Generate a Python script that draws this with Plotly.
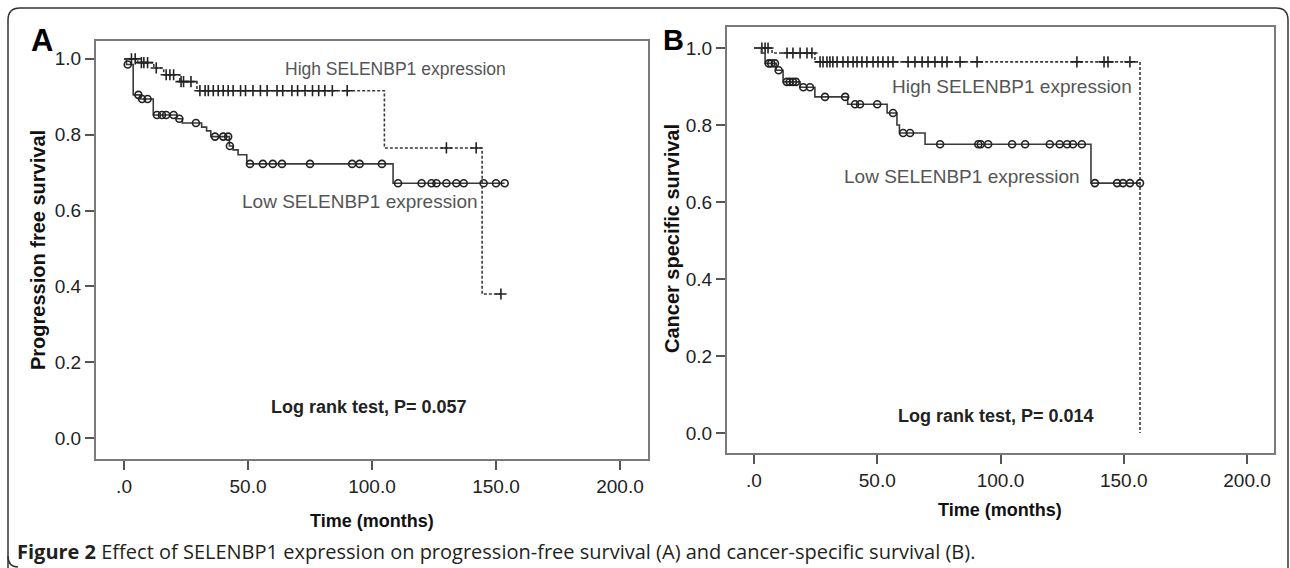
import plotly.graph_objects as go

W, H = 1290, 568

# ---------------- data ----------------
# Panel A: progression-free survival
a_high_step_t = [0, 5.5, 12, 16, 22.5, 29.4, 105, 144.4]
a_high_step_s = [1.0, 0.99, 0.976, 0.958, 0.94, 0.916, 0.765, 0.38]
a_high_censor = [3, 4.5, 7, 8, 9.5, 13, 17, 18.5, 20, 23, 24, 27, 30.6, 32.7, 34, 36, 38,
                 40, 42, 44, 47, 49, 52, 55, 57.7, 61.7, 64, 67.7, 70, 73, 76, 78.5, 81,
                 84, 90, 130, 142, 152]

a_low_step_t = [0, 1, 3.7, 6.5, 11.8, 21.3, 23.5, 31.3, 33.3, 35, 42.5, 44, 46, 49.5, 108.5]
a_low_step_s = [1.0, 0.985, 0.905, 0.894, 0.852, 0.842, 0.831, 0.82, 0.81, 0.795, 0.77,
                0.76, 0.747, 0.723, 0.672]
a_low_censor = [1.5, 5.8, 7.3, 9.5, 13.3, 15.3, 17, 20, 22.3, 29, 36.7, 40, 42, 42.7,
                50.8, 56, 60, 63.7, 75, 92, 95, 104, 110.5, 120, 124, 126, 130, 134,
                137, 145, 150, 153.5]

# Panel B: cancer-specific survival
b_high_step_t = [0, 7.3, 24.7, 156.6]
b_high_step_s = [1.0, 0.987, 0.964, 0.0]
b_high_censor = [3.2, 4.5, 5.7, 13.4, 15.8, 18.7, 21.5, 23.5, 26.8, 28, 29.6, 30.8, 32,
                 33.7, 36.1, 38.1, 40.2, 41.8, 43.8, 45.8, 48.3, 50.3, 52.3, 54.4, 56.4,
                 62.5, 65.3, 68.2, 70.6, 73.4, 76.3, 78.3, 83.6, 90.5, 131, 142, 143.6,
                 152.5]

b_low_step_t = [0, 3, 4.5, 9, 11.8, 18.7, 24.7, 38, 54, 58, 59, 69.4, 136.7]
b_low_step_s = [1.0, 0.987, 0.96, 0.942, 0.912, 0.898, 0.873, 0.854, 0.831, 0.8, 0.779,
                0.75, 0.649]
b_low_censor = [6, 7, 8.5, 10, 13.3, 14.5, 15.8, 17, 20, 22.7, 28.8, 37, 41, 43, 50,
                56.4, 60.5, 63.3, 75.5, 91, 92, 95, 104.7, 110, 120, 124, 127, 129.4,
                133, 138.3, 147.3, 149.7, 152.5, 156.6]

x_tick_vals = [0, 50, 100, 150, 200]
x_tick_text = [".0", "50.0", "100.0", "150.0", "200.0"]
y_tick_vals = [0.0, 0.2, 0.4, 0.6, 0.8, 1.0]
y_tick_text = ["0.0", "0.2", "0.4", "0.6", "0.8", "1.0"]

high_label = "High SELENBP1 expression"
low_label = "Low SELENBP1 expression"
x_title = "Time (months)"
a_y_title = "Progression free survival"
b_y_title = "Cancer specific survival"
a_pvalue = "Log rank test, P= 0.057"
b_pvalue = "Log rank test, P= 0.014"
caption_bold = "Figure 2"
caption_rest = (" Effect of SELENBP1 expression on progression-free survival (A) "
                "and cancer-specific survival (B).")

# ---------------- helpers ----------------
def surv_at(t, st, ss):
    v = ss[0]
    for ti, si in zip(st, ss):
        if ti <= t:
            v = si
    return v


def km_line(st, ss, censor):
    end = max(st[-1], max(censor))
    xs = list(st) + ([end] if end > st[-1] else [])
    ys = list(ss) + ([ss[-1]] if end > st[-1] else [])
    return xs, ys


LINE_COL = "#3a3a3a"
MARK_COL = "#222222"
FONT = "Liberation Sans, Arial, sans-serif"

fig = go.Figure()


def add_group(st, ss, censor, xa, ya, high):
    xs, ys = km_line(st, ss, censor)
    fig.add_trace(go.Scatter(
        x=xs, y=ys, mode="lines", line_shape="hv", xaxis=xa, yaxis=ya,
        line=dict(color=LINE_COL, width=1.6, dash="3px,2px" if high else "solid"),
        showlegend=False, hoverinfo="skip"))
    cy = [surv_at(t, st, ss) for t in censor]
    fig.add_trace(go.Scatter(
        x=censor, y=cy, mode="markers", xaxis=xa, yaxis=ya,
        marker=dict(symbol="cross-thin" if high else "circle-open",
                    size=8 if high else 7, color=MARK_COL,
                    line=dict(color=MARK_COL, width=1.6)),
        showlegend=False, hoverinfo="skip"))


add_group(a_high_step_t, a_high_step_s, a_high_censor, "x", "y", True)
add_group(a_low_step_t, a_low_step_s, a_low_censor, "x", "y", False)
add_group(b_high_step_t, b_high_step_s, b_high_censor, "x2", "y2", True)
add_group(b_low_step_t, b_low_step_s, b_low_censor, "x2", "y2", False)


def px(x):
    return x / W


def py(y):
    return 1 - y / H


axis_common = dict(showline=True, mirror=True, linecolor="#7a7a7a", linewidth=2,
                   ticks="outside", ticklen=9, tickwidth=1.5, tickcolor="#555555",
                   showgrid=False, zeroline=False,
                   tickfont=dict(family=FONT, size=19, color="#222222"))

fig.update_layout(
    width=W, height=H, margin=dict(l=0, r=0, t=0, b=0),
    paper_bgcolor="white", plot_bgcolor="white",
    xaxis=dict(domain=[px(96), px(648)], range=[-11.3, 211.3], anchor="y",
               tickvals=x_tick_vals, ticktext=x_tick_text, **axis_common),
    yaxis=dict(domain=[py(459), py(41)], range=[-0.055, 1.047], anchor="x",
               tickvals=y_tick_vals, ticktext=y_tick_text, **axis_common),
    xaxis2=dict(domain=[px(727), px(1274)], range=[-10.95, 210.95], anchor="y2",
                tickvals=x_tick_vals, ticktext=x_tick_text, **axis_common),
    yaxis2=dict(domain=[py(453), py(27)], range=[-0.052, 1.0545], anchor="x2",
                tickvals=y_tick_vals, ticktext=y_tick_text, **axis_common),
)

ann = []
GRAY = "#555555"


def add_ann(x, y, text, size, color, xref="paper", yref="paper", bold=False,
            angle=0, family=FONT, xanchor="center"):
    ann.append(dict(x=x, y=y, xref=xref, yref=yref, showarrow=False,
                    text=("<b>" + text + "</b>") if bold else text,
                    textangle=angle, xanchor=xanchor, yanchor="middle",
                    font=dict(family=family, size=size, color=color)))


# in-plot labels
add_ann(109.3, 0.974, high_label, 17.5, GRAY, "x", "y")
add_ann(95.2, 0.623, low_label, 19, GRAY, "x", "y")
add_ann(98.6, 0.082, a_pvalue, 18, "#222222", "x", "y", bold=True)
add_ann(104.7, 0.899, high_label, 19, GRAY, "x2", "y2")
add_ann(84.4, 0.665, low_label, 19, GRAY, "x2", "y2")
add_ann(98.2, 0.045, b_pvalue, 18, "#222222", "x2", "y2", bold=True)
# axis titles
add_ann(px(372), py(521), x_title, 18, "#111111", bold=True)
add_ann(px(1000), py(510), x_title, 18, "#111111", bold=True)
add_ann(px(38), py(250), a_y_title, 20, "#111111", bold=True, angle=-90)
add_ann(px(672), py(239), b_y_title, 20, "#111111", bold=True, angle=-90)
# panel letters
add_ann(px(42), py(41), "A", 31, "#000000", bold=True)
add_ann(px(674), py(40), "B", 29, "#000000", bold=True)
# caption
ann.append(dict(x=px(14.5), y=py(551), xref="paper", yref="paper", xanchor="left",
                yanchor="middle", showarrow=False,
                text="<b>" + caption_bold + "</b>" + caption_rest,
                font=dict(family="Open Sans, Noto Sans, sans-serif", size=20,
                          color="#231f20")))
fig.update_layout(annotations=ann)

# outer rounded frame
L, T, R, B, r = 8, 8, 1288, 580, 12
path = (f"M {px(L)},{py(B - r)} L {px(L)},{py(T + r)} Q {px(L)},{py(T)} {px(L + r)},{py(T)} "
        f"L {px(R - r)},{py(T)} Q {px(R)},{py(T)} {px(R)},{py(T + r)} "
        f"L {px(R)},{py(B - r)}")
fig.add_shape(type="path", xref="paper", yref="paper", path=path,
              line=dict(color="#333333", width=1.5))
path2 = f"M {px(L)},{py(556)} Q {px(L)},{py(567)} {px(L + 10)},{py(567)}"
fig.add_shape(type="path", xref="paper", yref="paper", path=path2,
              line=dict(color="#333333", width=1.5))

fig.write_html("out.html", config={"displayModeBar": False},
               post_script="document.body.style.margin='0px';"
                           "document.body.style.overflow='hidden';")
